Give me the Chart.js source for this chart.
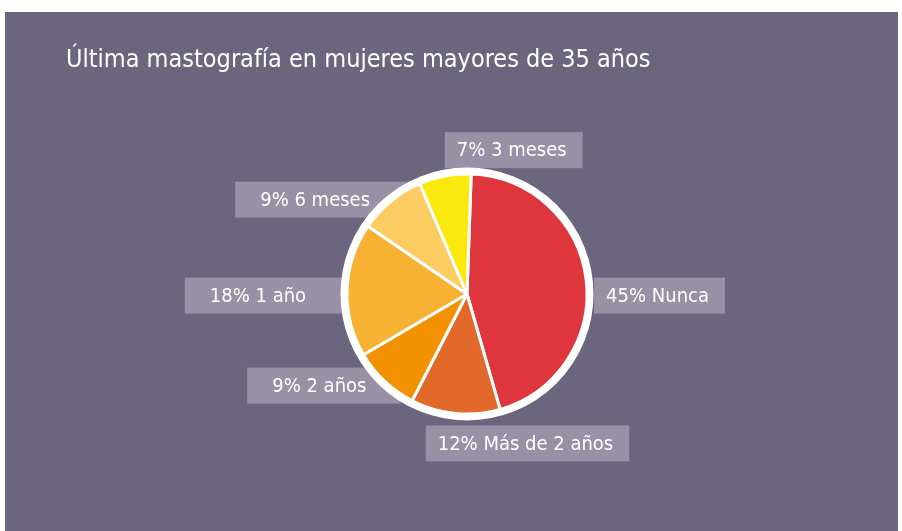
<!DOCTYPE html>
<html>
<head>
<meta charset="utf-8">
<script src="https://cdn.jsdelivr.net/npm/chart.js@4.4.1/dist/chart.umd.min.js"></script>
<style>
  html, body { margin: 0; padding: 0; background: #ffffff; }
  #panel { position: absolute; left: 5px; top: 12px; width: 893px; height: 519px; background: #6c657e; }
</style>
</head>
<body>
<div id="panel"><canvas id="chart"></canvas></div>
<script>
// Data
const categories = ['Nunca', 'Más de 2 años', '2 años', '1 año', '6 meses', '3 meses'];
const percentages = [45, 12, 9, 18, 9, 7];

// Style
const sliceColors = ['#df353c', '#e3692a', '#f39200', '#f7b233', '#fccc62', '#fbe80d'];
const labelFont = '20px "DejaVu Sans Condensed", "Liberation Sans Narrow", "Open Sans", sans-serif';
// Text offset from the ring point at each slice's middle angle: [dx, dy, align]
const labelNudge = [[14, 18, 'left'], [-17, 25, 'left'], [-14, 1, 'right'], [-35, 7, 'right'], [-17, 4, 'right'], [13, -19, 'left']];
const RING = 7;

// Label boxes, drawn before the pie so the pie covers their inner ends
const pieLabels = {
    id: 'pieLabels',
    beforeDatasetsDraw(chart) {
        const ctx = chart.ctx;
        const meta = chart.getDatasetMeta(0);
        ctx.save();
        ctx.font = labelFont;
        ctx.textBaseline = 'middle';
        meta.data.forEach((arc, i) => {
            const p = arc.getProps(['x', 'y', 'startAngle', 'endAngle', 'outerRadius'], true);
            const mid = (p.startAngle + p.endAngle) / 2;
            const r = p.outerRadius + RING - 1;
            const ax = p.x + r * Math.cos(mid);
            const ay = p.y + r * Math.sin(mid);
            const [dx, dy, align] = labelNudge[i];
            const text = percentages[i] + '% ' + categories[i];
            const w = ctx.measureText(text).width;
            const tx = ax + dx;
            const ty = ay + dy;
            const h = 36;
            let left, right;
            if (align === 'left') {
                left = tx - 12;
                right = tx + w + 16;
            } else {
                left = tx - w - 25;
                right = ax + 20;
            }
            ctx.fillStyle = '#9891a6';
            ctx.fillRect(left, ty - h / 2 - 1, right - left, h);
            ctx.fillStyle = '#ffffff';
            ctx.textAlign = 'left';
            ctx.fillText(text, align === 'left' ? tx : tx - w, ty);
        });
        ctx.restore();
    }
};

// Thick white ring round the pie
const whiteRing = {
    id: 'whiteRing',
    afterDatasetsDraw(chart) {
        const arc = chart.getDatasetMeta(0).data[0];
        if (!arc) return;
        const p = arc.getProps(['x', 'y', 'outerRadius'], true);
        const ctx = chart.ctx;
        ctx.save();
        ctx.beginPath();
        ctx.arc(p.x, p.y, p.outerRadius + RING / 2 - 0.5, 0, Math.PI * 2);
        ctx.lineWidth = RING;
        ctx.strokeStyle = '#ffffff';
        ctx.stroke();
        ctx.restore();
    }
};

new Chart(document.getElementById('chart'), {
    type: 'pie',
    data: {
        labels: categories,
        datasets: [{
            data: percentages,
            backgroundColor: sliceColors,
            borderColor: '#ffffff',
            borderWidth: 3,
            hoverOffset: 0
        }]
    },
    options: {
        responsive: true,
        maintainAspectRatio: false,
        animation: false,
        rotation: 2,
        radius: 120,
        layout: {
            padding: { left: 61, right: 30, top: 0, bottom: 58 }
        },
        plugins: {
            legend: { display: false },
            tooltip: { enabled: false },
            title: {
                display: true,
                text: 'Última mastografía en mujeres mayores de 35 años',
                align: 'start',
                color: '#ffffff',
                font: {
                    family: '"DejaVu Sans Condensed", "Liberation Sans Narrow", "Open Sans", sans-serif',
                    size: 25,
                    weight: 'normal',
                    lineHeight: 1.2
                },
                padding: { top: 33, bottom: 40 }
            }
        }
    },
    plugins: [pieLabels, whiteRing]
});
</script>
</body>
</html>
